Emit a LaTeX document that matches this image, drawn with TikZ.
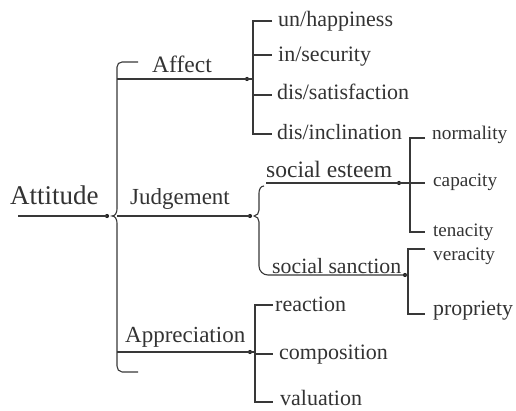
\documentclass[tikz,border=0pt]{standalone}
\usepackage{fontspec}
\setmainfont{Liberation Serif}
\newfontfamily\tms{Liberation Serif}
\begin{document}
\begin{tikzpicture}[x=1pt,y=-1pt,
  ln/.style={draw=black!78,line width=1.1pt},
  jdot/.style={circle,fill=black!85,inner sep=0pt,minimum size=4.2pt},
  lbl/.style={inner sep=0pt,anchor=base west,text=black!80},
]
\useasboundingbox (0,0) rectangle (516,411);
\fill[white] (0,0) rectangle (516,411);

% labels
\node[lbl,font=\tms\fontsize{27}{29}\selectfont] (att) at (10,205) {Attitude};
\node[lbl,font=\tms\fontsize{23.5}{25}\selectfont] (aff) at (152,73) {Affect};
\node[lbl,font=\tms\fontsize{23}{25}\selectfont] (jud) at (130,205) {Judgement};
\node[lbl,font=\tms\fontsize{23}{25}\selectfont] (app) at (125,342) {Appreciation};
\node[lbl,font=\tms\fontsize{22}{24}\selectfont] (unh) at (278,27) {un/happiness};
\node[lbl,font=\tms\fontsize{22}{24}\selectfont] (ins) at (278,62) {in/security};
\node[lbl,font=\tms\fontsize{22}{24}\selectfont] (dsa) at (277,100) {dis/satisfaction};
\node[lbl,font=\tms\fontsize{21.8}{24}\selectfont] (din) at (277,140) {dis/inclination};
\node[lbl,font=\tms\fontsize{19.3}{21}\selectfont] (nor) at (432,140) {normality};
\node[lbl,font=\tms\fontsize{23.5}{25}\selectfont] (ses) at (266,178) {social esteem};
\node[lbl,font=\tms\fontsize{19.2}{21}\selectfont] (cap) at (433,187) {capacity};
\node[lbl,font=\tms\fontsize{19}{21}\selectfont] (ten) at (433,237) {tenacity};
\node[lbl,font=\tms\fontsize{19.2}{21}\selectfont] (ver) at (433,261) {veracity};
\node[lbl,font=\tms\fontsize{21.8}{24}\selectfont] (ssa) at (272,273) {social sanction};
\node[lbl,font=\tms\fontsize{21.8}{24}\selectfont] (pro) at (433,315) {propriety};
\node[lbl,font=\tms\fontsize{22}{24}\selectfont] (rea) at (275,312) {reaction};
\node[lbl,font=\tms\fontsize{22}{24}\selectfont] (com) at (279,359) {composition};
\node[lbl,font=\tms\fontsize{22}{24}\selectfont] (val) at (280,405) {valuation};

% coordinates
\coordinate (attS) at (18,216);
\node[jdot] (attD) at (107,216) {};
\node[jdot] (affD) at (247,79) {};
\node[jdot] (judD) at (250,216) {};
\node[jdot] (appD) at (250,352) {};
\node[jdot] (sesD) at (399,183) {};
\node[jdot] (ssaD) at (405,275) {};

% Attitude arrow and main brace
\draw[ln] (attS) -- (attD.center);
\draw[ln] (138,62) -- (122,62) to[out=180,in=90] (117,67) -- (117,209)
  to[out=-90,in=0] (112,216) to[out=0,in=90] (117,223) -- (117,366)
  to[out=-90,in=180] (122,372) -- (138,372);
\draw[ln] (117,79) -- (affD.center);
\draw[ln] (117,216) -- (judD.center);
\draw[ln] (117,352) -- (appD.center);

% Affect bracket
\draw[ln] (272,21) -- (253,21) -- (253,134) -- (272,134);
\draw[ln] (253,55) -- (272,55);
\draw[ln] (253,95) -- (272,95);
\draw[ln] (affD.center) -- (253,79);

% Judgement brace
\draw[ln] (264,186) to[out=180,in=90] (259,193) -- (259,210)
  to[out=-90,in=0] (254,216) to[out=0,in=90] (259,222) -- (259,266)
  to[out=-90,in=180] (268,275) -- (ssaD.center);
\draw[ln] (266,183) -- (sesD.center);

% Esteem bracket
\draw[ln] (425,138) -- (410,138) -- (410,232) -- (425,232);
\draw[ln] (sesD.center) -- (425,183);

% Sanction bracket
\draw[ln] (425,249) -- (408,249) -- (408,314) -- (425,314);
\draw[ln] (ssaD.center) -- (408,275);

% Appreciation bracket
\draw[ln] (273,305) -- (255,305) -- (255,402) -- (273,402);
\draw[ln] (appD.center) -- (255,352) -- (255,354) -- (273,354);
\end{tikzpicture}
\end{document}
